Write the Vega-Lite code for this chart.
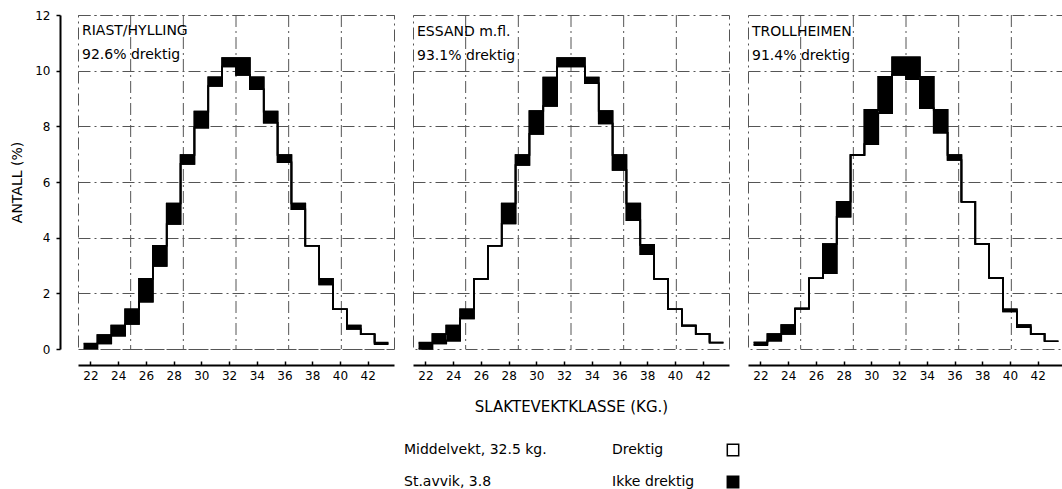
{
  "$schema": "https://vega.github.io/schema/vega-lite/v6.json",
  "background": "white",
  "padding": {"left": 10, "top": 8, "right": 0, "bottom": 0},
  "config": {
    "font": "DejaVu Sans",
    "view": {"stroke": "#555", "strokeDash": [12, 4, 2, 4], "strokeWidth": 1},
    "axis": {
      "labelFont": "DejaVu Sans", "titleFont": "DejaVu Sans",
      "labelColor": "black", "titleColor": "black",
      "gridColor": "#555", "gridDash": [12, 4, 2, 4], "gridOpacity": 1, "gridWidth": 1,
      "domainColor": "black", "tickColor": "black", "titleFontWeight": "normal",
      "labelOverlap": false
    }
  },
  "datasets": {
    "fordeling": [
      {"region": "RIAST/HYLLING", "klasse": 22, "fra": 21.5, "til": 22.5, "drektig": 0.02, "total": 0.2},
      {"region": "RIAST/HYLLING", "klasse": 23, "fra": 22.5, "til": 23.5, "drektig": 0.2, "total": 0.5},
      {"region": "RIAST/HYLLING", "klasse": 24, "fra": 23.5, "til": 24.5, "drektig": 0.48, "total": 0.84},
      {"region": "RIAST/HYLLING", "klasse": 25, "fra": 24.5, "til": 25.5, "drektig": 0.9, "total": 1.43},
      {"region": "RIAST/HYLLING", "klasse": 26, "fra": 25.5, "til": 26.5, "drektig": 1.7, "total": 2.52},
      {"region": "RIAST/HYLLING", "klasse": 27, "fra": 26.5, "til": 27.5, "drektig": 2.98, "total": 3.71},
      {"region": "RIAST/HYLLING", "klasse": 28, "fra": 27.5, "til": 28.5, "drektig": 4.49, "total": 5.23},
      {"region": "RIAST/HYLLING", "klasse": 29, "fra": 28.5, "til": 29.5, "drektig": 6.65, "total": 6.97},
      {"region": "RIAST/HYLLING", "klasse": 30, "fra": 29.5, "til": 30.5, "drektig": 7.95, "total": 8.53},
      {"region": "RIAST/HYLLING", "klasse": 31, "fra": 30.5, "til": 31.5, "drektig": 9.45, "total": 9.76},
      {"region": "RIAST/HYLLING", "klasse": 32, "fra": 31.5, "til": 32.5, "drektig": 10.15, "total": 10.45},
      {"region": "RIAST/HYLLING", "klasse": 33, "fra": 32.5, "til": 33.5, "drektig": 9.85, "total": 10.45},
      {"region": "RIAST/HYLLING", "klasse": 34, "fra": 33.5, "til": 34.5, "drektig": 9.33, "total": 9.76},
      {"region": "RIAST/HYLLING", "klasse": 35, "fra": 34.5, "til": 35.5, "drektig": 8.13, "total": 8.53},
      {"region": "RIAST/HYLLING", "klasse": 36, "fra": 35.5, "til": 36.5, "drektig": 6.71, "total": 6.97},
      {"region": "RIAST/HYLLING", "klasse": 37, "fra": 36.5, "til": 37.5, "drektig": 5.02, "total": 5.23},
      {"region": "RIAST/HYLLING", "klasse": 38, "fra": 37.5, "til": 38.5, "drektig": 3.71, "total": 3.71},
      {"region": "RIAST/HYLLING", "klasse": 39, "fra": 38.5, "til": 39.5, "drektig": 2.32, "total": 2.52},
      {"region": "RIAST/HYLLING", "klasse": 40, "fra": 39.5, "til": 40.5, "drektig": 1.43, "total": 1.43},
      {"region": "RIAST/HYLLING", "klasse": 41, "fra": 40.5, "til": 41.5, "drektig": 0.72, "total": 0.84},
      {"region": "RIAST/HYLLING", "klasse": 42, "fra": 41.5, "til": 42.5, "drektig": 0.53, "total": 0.53},
      {"region": "RIAST/HYLLING", "klasse": 43, "fra": 42.5, "til": 43.5, "drektig": 0.17, "total": 0.23},
      {"region": "ESSAND m.fl.", "klasse": 22, "fra": 21.5, "til": 22.5, "drektig": 0.0, "total": 0.23},
      {"region": "ESSAND m.fl.", "klasse": 23, "fra": 22.5, "til": 23.5, "drektig": 0.2, "total": 0.54},
      {"region": "ESSAND m.fl.", "klasse": 24, "fra": 23.5, "til": 24.5, "drektig": 0.3, "total": 0.84},
      {"region": "ESSAND m.fl.", "klasse": 25, "fra": 24.5, "til": 25.5, "drektig": 1.1, "total": 1.43},
      {"region": "ESSAND m.fl.", "klasse": 26, "fra": 25.5, "til": 26.5, "drektig": 2.52, "total": 2.52},
      {"region": "ESSAND m.fl.", "klasse": 27, "fra": 26.5, "til": 27.5, "drektig": 3.71, "total": 3.71},
      {"region": "ESSAND m.fl.", "klasse": 28, "fra": 27.5, "til": 28.5, "drektig": 4.51, "total": 5.23},
      {"region": "ESSAND m.fl.", "klasse": 29, "fra": 28.5, "til": 29.5, "drektig": 6.61, "total": 6.97},
      {"region": "ESSAND m.fl.", "klasse": 30, "fra": 29.5, "til": 30.5, "drektig": 7.73, "total": 8.55},
      {"region": "ESSAND m.fl.", "klasse": 31, "fra": 30.5, "til": 31.5, "drektig": 8.73, "total": 9.75},
      {"region": "ESSAND m.fl.", "klasse": 32, "fra": 31.5, "til": 32.5, "drektig": 10.15, "total": 10.45},
      {"region": "ESSAND m.fl.", "klasse": 33, "fra": 32.5, "til": 33.5, "drektig": 10.15, "total": 10.45},
      {"region": "ESSAND m.fl.", "klasse": 34, "fra": 33.5, "til": 34.5, "drektig": 9.55, "total": 9.75},
      {"region": "ESSAND m.fl.", "klasse": 35, "fra": 34.5, "til": 35.5, "drektig": 8.1, "total": 8.55},
      {"region": "ESSAND m.fl.", "klasse": 36, "fra": 35.5, "til": 36.5, "drektig": 6.43, "total": 6.97},
      {"region": "ESSAND m.fl.", "klasse": 37, "fra": 36.5, "til": 37.5, "drektig": 4.63, "total": 5.23},
      {"region": "ESSAND m.fl.", "klasse": 38, "fra": 37.5, "til": 38.5, "drektig": 3.41, "total": 3.74},
      {"region": "ESSAND m.fl.", "klasse": 39, "fra": 38.5, "til": 39.5, "drektig": 2.52, "total": 2.52},
      {"region": "ESSAND m.fl.", "klasse": 40, "fra": 39.5, "til": 40.5, "drektig": 1.43, "total": 1.43},
      {"region": "ESSAND m.fl.", "klasse": 41, "fra": 40.5, "til": 41.5, "drektig": 0.84, "total": 0.84},
      {"region": "ESSAND m.fl.", "klasse": 42, "fra": 41.5, "til": 42.5, "drektig": 0.54, "total": 0.54},
      {"region": "ESSAND m.fl.", "klasse": 43, "fra": 42.5, "til": 43.5, "drektig": 0.23, "total": 0.23},
      {"region": "TROLLHEIMEN", "klasse": 22, "fra": 21.5, "til": 22.5, "drektig": 0.14, "total": 0.24},
      {"region": "TROLLHEIMEN", "klasse": 23, "fra": 22.5, "til": 23.5, "drektig": 0.3, "total": 0.54},
      {"region": "TROLLHEIMEN", "klasse": 24, "fra": 23.5, "til": 24.5, "drektig": 0.54, "total": 0.86},
      {"region": "TROLLHEIMEN", "klasse": 25, "fra": 24.5, "til": 25.5, "drektig": 1.45, "total": 1.45},
      {"region": "TROLLHEIMEN", "klasse": 26, "fra": 25.5, "til": 26.5, "drektig": 2.54, "total": 2.54},
      {"region": "TROLLHEIMEN", "klasse": 27, "fra": 26.5, "til": 27.5, "drektig": 2.72, "total": 3.77},
      {"region": "TROLLHEIMEN", "klasse": 28, "fra": 27.5, "til": 28.5, "drektig": 4.75, "total": 5.29},
      {"region": "TROLLHEIMEN", "klasse": 29, "fra": 28.5, "til": 29.5, "drektig": 6.97, "total": 6.97},
      {"region": "TROLLHEIMEN", "klasse": 30, "fra": 29.5, "til": 30.5, "drektig": 7.36, "total": 8.59},
      {"region": "TROLLHEIMEN", "klasse": 31, "fra": 30.5, "til": 31.5, "drektig": 8.47, "total": 9.78},
      {"region": "TROLLHEIMEN", "klasse": 32, "fra": 31.5, "til": 32.5, "drektig": 9.85, "total": 10.48},
      {"region": "TROLLHEIMEN", "klasse": 33, "fra": 32.5, "til": 33.5, "drektig": 9.69, "total": 10.48},
      {"region": "TROLLHEIMEN", "klasse": 34, "fra": 33.5, "til": 34.5, "drektig": 8.65, "total": 9.78},
      {"region": "TROLLHEIMEN", "klasse": 35, "fra": 34.5, "til": 35.5, "drektig": 7.77, "total": 8.59},
      {"region": "TROLLHEIMEN", "klasse": 36, "fra": 35.5, "til": 36.5, "drektig": 6.79, "total": 6.97},
      {"region": "TROLLHEIMEN", "klasse": 37, "fra": 36.5, "til": 37.5, "drektig": 5.29, "total": 5.29},
      {"region": "TROLLHEIMEN", "klasse": 38, "fra": 37.5, "til": 38.5, "drektig": 3.77, "total": 3.77},
      {"region": "TROLLHEIMEN", "klasse": 39, "fra": 38.5, "til": 39.5, "drektig": 2.55, "total": 2.55},
      {"region": "TROLLHEIMEN", "klasse": 40, "fra": 39.5, "til": 40.5, "drektig": 1.35, "total": 1.43},
      {"region": "TROLLHEIMEN", "klasse": 41, "fra": 40.5, "til": 41.5, "drektig": 0.78, "total": 0.86},
      {"region": "TROLLHEIMEN", "klasse": 42, "fra": 41.5, "til": 42.5, "drektig": 0.54, "total": 0.54},
      {"region": "TROLLHEIMEN", "klasse": 43, "fra": 42.5, "til": 43.5, "drektig": 0.28, "total": 0.28}
    ],
    "sdlinjer": [
      {"vekt": 24.9}, {"vekt": 28.7}, {"vekt": 32.5}, {"vekt": 36.3}, {"vekt": 40.1}
    ],
    "forklaring": [
      {"tekst": "Middelvekt, 32.5 kg.", "gruppe": "statistikk", "rad": "1"},
      {"tekst": "St.avvik, 3.8", "gruppe": "statistikk", "rad": "2"},
      {"tekst": "Drektig", "gruppe": "status", "rad": "1"},
      {"tekst": "Ikke drektig", "gruppe": "status", "rad": "2"}
    ]
  },
  "vconcat": [
    {
      "hconcat": [
        {
          "width": 316, "height": 334,
          "title": {"text": ["RIAST/HYLLING", "92.6% drektig"], "anchor": "start", "frame": "group", "orient": "top", "offset": -53, "baseline": "top", "dx": 4, "fontSize": 14, "fontWeight": "normal", "lineHeight": 24, "color": "black", "font": "DejaVu Sans"},
          "layer": [
            {
              "data": {"name": "sdlinjer"},
              "mark": {"type": "rule", "color": "#555", "strokeDash": [12, 4, 2, 4], "strokeWidth": 1},
              "encoding": {
                "x": {"field": "vekt", "type": "quantitative", "scale": {"domain": [21.1, 43.9], "nice": false, "zero": false},
                      "axis": {"values": [22, 24, 26, 28, 30, 32, 34, 36, 38, 40, 42], "tickCount": 30, "format": "d", "labelOverlap": false, "grid": false, "offset": 16, "tickSize": -4, "tickWidth": 1.5, "domainWidth": 2, "labelFontSize": 12, "labelPadding": 9, "title": null}}
              }
            },
            {
              "data": {"name": "fordeling"},
              "transform": [{"filter": "datum.region === 'RIAST/HYLLING'"}],
              "mark": {"type": "rect", "color": "black"},
              "encoding": {
                "x": {"field": "fra", "type": "quantitative"},
                "x2": {"field": "til"},
                "y": {"field": "drektig", "type": "quantitative", "scale": {"domain": [0, 12], "nice": false},
                      "axis": {"values": [0, 2, 4, 6, 8, 10, 12], "tickCount": 20, "format": "d", "grid": true, "offset": 18, "domainWidth": 2, "tickSize": 4, "tickWidth": 1.5, "labelPadding": 6, "labelFontSize": 12, "title": "ANTALL (%)", "titleFontSize": 14, "titlePadding": 10}},
                "y2": {"field": "total"}
              }
            },
            {
              "data": {"name": "fordeling"},
              "transform": [{"filter": "datum.region === 'RIAST/HYLLING'"}, {"fold": ["drektig", "total"], "as": ["serie", "andel"]}],
              "mark": {"type": "line", "interpolate": "step-after", "color": "black", "strokeWidth": 1.6},
              "encoding": {"x": {"field": "fra", "type": "quantitative"}, "y": {"field": "andel", "type": "quantitative"}, "detail": {"field": "serie"}}
            },
            {
              "data": {"name": "fordeling"},
              "transform": [{"filter": "datum.region === 'RIAST/HYLLING'"}, {"fold": ["drektig", "total"], "as": ["serie", "andel"]}],
              "mark": {"type": "line", "interpolate": "step-before", "color": "black", "strokeWidth": 1.6},
              "encoding": {"x": {"field": "til", "type": "quantitative"}, "y": {"field": "andel", "type": "quantitative"}, "detail": {"field": "serie"}}
            }
          ]
        },
        {
          "width": 316, "height": 334,
          "title": {"text": ["ESSAND m.fl.", "93.1% drektig"], "anchor": "start", "frame": "group", "orient": "top", "offset": -48, "baseline": "top", "dx": 4, "fontSize": 14, "fontWeight": "normal", "lineHeight": 24, "color": "black", "font": "DejaVu Sans"},
          "layer": [
            {
              "data": {"name": "sdlinjer"},
              "mark": {"type": "rule", "color": "#555", "strokeDash": [12, 4, 2, 4], "strokeWidth": 1},
              "encoding": {
                "x": {"field": "vekt", "type": "quantitative", "scale": {"domain": [21.1, 43.9], "nice": false, "zero": false},
                      "axis": {"values": [22, 24, 26, 28, 30, 32, 34, 36, 38, 40, 42], "tickCount": 30, "format": "d", "labelOverlap": false, "grid": false, "offset": 16, "tickSize": -4, "tickWidth": 1.5, "domainWidth": 2, "labelFontSize": 12, "labelPadding": 9, "title": "SLAKTEVEKTKLASSE (KG.)", "titleFontSize": 15, "titlePadding": 18}}
              }
            },
            {
              "data": {"name": "fordeling"},
              "transform": [{"filter": "datum.region === 'ESSAND m.fl.'"}],
              "mark": {"type": "rect", "color": "black"},
              "encoding": {
                "x": {"field": "fra", "type": "quantitative"},
                "x2": {"field": "til"},
                "y": {"field": "drektig", "type": "quantitative", "scale": {"domain": [0, 12], "nice": false},
                      "axis": {"values": [2, 4, 6, 8, 10], "tickCount": 20, "grid": true, "labels": false, "ticks": false, "domain": false, "title": null}},
                "y2": {"field": "total"}
              }
            },
            {
              "data": {"name": "fordeling"},
              "transform": [{"filter": "datum.region === 'ESSAND m.fl.'"}, {"fold": ["drektig", "total"], "as": ["serie", "andel"]}],
              "mark": {"type": "line", "interpolate": "step-after", "color": "black", "strokeWidth": 1.6},
              "encoding": {"x": {"field": "fra", "type": "quantitative"}, "y": {"field": "andel", "type": "quantitative"}, "detail": {"field": "serie"}}
            },
            {
              "data": {"name": "fordeling"},
              "transform": [{"filter": "datum.region === 'ESSAND m.fl.'"}, {"fold": ["drektig", "total"], "as": ["serie", "andel"]}],
              "mark": {"type": "line", "interpolate": "step-before", "color": "black", "strokeWidth": 1.6},
              "encoding": {"x": {"field": "til", "type": "quantitative"}, "y": {"field": "andel", "type": "quantitative"}, "detail": {"field": "serie"}}
            }
          ]
        },
        {
          "width": 316, "height": 334,
          "title": {"text": ["TROLLHEIMEN", "91.4% drektig"], "anchor": "start", "frame": "group", "orient": "top", "offset": -48, "baseline": "top", "dx": 4, "fontSize": 14, "fontWeight": "normal", "lineHeight": 24, "color": "black", "font": "DejaVu Sans"},
          "layer": [
            {
              "data": {"name": "sdlinjer"},
              "mark": {"type": "rule", "color": "#555", "strokeDash": [12, 4, 2, 4], "strokeWidth": 1},
              "encoding": {
                "x": {"field": "vekt", "type": "quantitative", "scale": {"domain": [21.1, 43.9], "nice": false, "zero": false},
                      "axis": {"values": [22, 24, 26, 28, 30, 32, 34, 36, 38, 40, 42], "tickCount": 30, "format": "d", "labelOverlap": false, "grid": false, "offset": 16, "tickSize": -4, "tickWidth": 1.5, "domainWidth": 2, "labelFontSize": 12, "labelPadding": 9, "title": null}}
              }
            },
            {
              "data": {"name": "fordeling"},
              "transform": [{"filter": "datum.region === 'TROLLHEIMEN'"}],
              "mark": {"type": "rect", "color": "black"},
              "encoding": {
                "x": {"field": "fra", "type": "quantitative"},
                "x2": {"field": "til"},
                "y": {"field": "drektig", "type": "quantitative", "scale": {"domain": [0, 12], "nice": false},
                      "axis": {"values": [2, 4, 6, 8, 10], "tickCount": 20, "grid": true, "labels": false, "ticks": false, "domain": false, "title": null}},
                "y2": {"field": "total"}
              }
            },
            {
              "data": {"name": "fordeling"},
              "transform": [{"filter": "datum.region === 'TROLLHEIMEN'"}, {"fold": ["drektig", "total"], "as": ["serie", "andel"]}],
              "mark": {"type": "line", "interpolate": "step-after", "color": "black", "strokeWidth": 1.6},
              "encoding": {"x": {"field": "fra", "type": "quantitative"}, "y": {"field": "andel", "type": "quantitative"}, "detail": {"field": "serie"}}
            },
            {
              "data": {"name": "fordeling"},
              "transform": [{"filter": "datum.region === 'TROLLHEIMEN'"}, {"fold": ["drektig", "total"], "as": ["serie", "andel"]}],
              "mark": {"type": "line", "interpolate": "step-before", "color": "black", "strokeWidth": 1.6},
              "encoding": {"x": {"field": "til", "type": "quantitative"}, "y": {"field": "andel", "type": "quantitative"}, "detail": {"field": "serie"}}
            }
          ]
        }
      ],
      "spacing": 17
    },
    {
      "width": 700, "height": 62,
      "data": {"name": "forklaring"},
      "view": {"stroke": null},
      "resolve": {"scale": {"x": "independent"}},
      "layer": [
        {
          "mark": {"type": "text", "align": "left", "baseline": "middle", "fontSize": 14, "color": "black", "font": "DejaVu Sans"},
          "encoding": {
            "x": {"field": "gruppe", "type": "nominal", "scale": {"type": "point", "domain": ["statistikk", "status"], "range": [326, 534], "padding": 0}, "axis": null},
            "y": {"field": "rad", "type": "nominal", "scale": {"type": "point", "domain": ["1", "2"], "range": [24, 56], "padding": 0}, "axis": null},
            "text": {"field": "tekst"}
          }
        },
        {
          "transform": [{"filter": "datum.gruppe === 'status'"}],
          "mark": {"type": "point", "shape": "square", "size": 130, "stroke": "black", "strokeWidth": 1.5, "opacity": 1, "filled": true},
          "encoding": {
            "x": {"datum": "symbol", "type": "nominal", "scale": {"type": "point", "domain": ["symbol"], "range": [655, 655], "padding": 0}, "axis": null},
            "y": {"field": "rad", "type": "nominal"},
            "fill": {"field": "tekst", "type": "nominal", "scale": {"domain": ["Drektig", "Ikke drektig"], "range": ["white", "black"]}, "legend": null}
          }
        }
      ]
    }
  ],
  "spacing": 11
}
